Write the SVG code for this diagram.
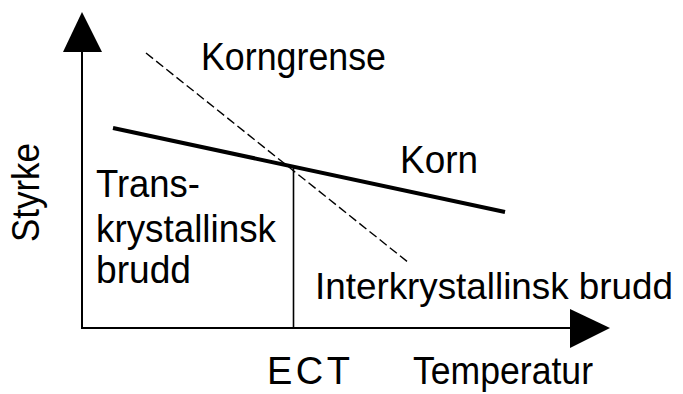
<svg xmlns="http://www.w3.org/2000/svg" width="683" height="394" viewBox="0 0 683 394">
<style>
text{font-family:"Liberation Sans",Arial,sans-serif;font-size:38px;fill:#000}
.ax{stroke:#000;stroke-width:2;fill:none}
.head{fill:#000}
</style>
<rect width="683" height="394" fill="#fff"/>
<g id="connectors">
<line class="ax" x1="82" y1="328" x2="82" y2="48"/>
<polygon class="head" points="82,12 63,52 102,52"/>
<line class="ax" x1="81" y1="328" x2="574" y2="328"/>
<polygon class="head" points="610,328 570,309 570,348"/>
<line x1="293.5" y1="167" x2="293.5" y2="328" stroke="#000" stroke-width="1.6"/>
<line x1="113" y1="128" x2="505" y2="212" stroke="#000" stroke-width="4"/>
<line x1="146" y1="53" x2="409" y2="263" stroke="#000" stroke-width="1.4" stroke-dasharray="9,4"/>
</g>
<g id="korngrense"><text x="201" y="70" textLength="185" lengthAdjust="spacingAndGlyphs">Korngrense</text></g>
<g id="korn"><text x="400" y="173" textLength="78" lengthAdjust="spacingAndGlyphs">Korn</text></g>
<g id="trans">
<text x="96" y="197" textLength="104" lengthAdjust="spacingAndGlyphs">Trans-</text>
<text x="96" y="242" textLength="180" lengthAdjust="spacingAndGlyphs">krystallinsk</text>
<text x="96" y="283" textLength="95" lengthAdjust="spacingAndGlyphs">brudd</text>
</g>
<g id="inter"><text x="315" y="299" style="font-size:37px" textLength="358" lengthAdjust="spacingAndGlyphs">Interkrystallinsk brudd</text></g>
<g id="ect"><text x="267" y="384" textLength="83" lengthAdjust="spacing">ECT</text></g>
<g id="temperatur"><text x="413" y="384" textLength="180" lengthAdjust="spacingAndGlyphs">Temperatur</text></g>
<g id="styrke"><text transform="translate(39,242) rotate(-90)" textLength="99" lengthAdjust="spacingAndGlyphs">Styrke</text></g>
</svg>
